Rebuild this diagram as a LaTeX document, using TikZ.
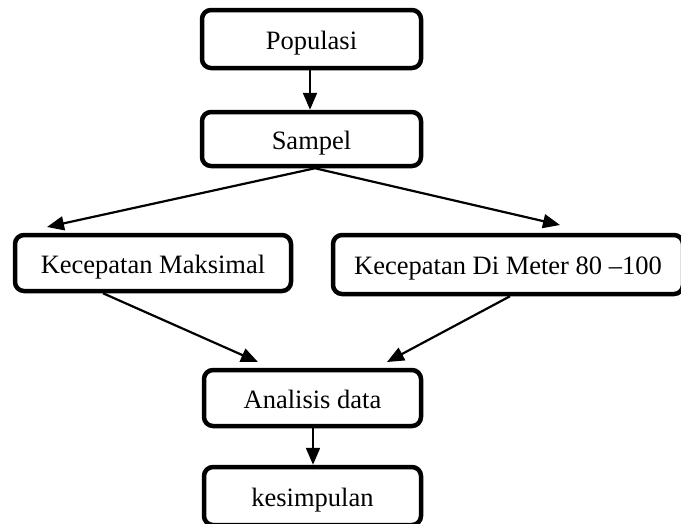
\documentclass[tikz,border=0pt]{standalone}
\usepackage{fontspec}
\setmainfont{Liberation Serif}
\usetikzlibrary{arrows.meta}
\begin{document}
\begin{tikzpicture}[x=1pt,y=-1pt,
  box/.style={draw=black, line width=4.5pt, rounded corners=9pt, fill=white,
    inner sep=0pt, text height=20pt, text depth=0pt,
    font=\fontsize{26.5}{30}\selectfont},
  arr/.style={line width=2.2pt, -{Triangle[length=17pt,width=14pt]}}]
\useasboundingbox (0,0) rectangle (681,523);
\node[box, minimum width=219pt, minimum height=58pt] (pop) at (311.5,39) {Populasi};
\node[box, minimum width=219pt, minimum height=54pt] (samp) at (311.5,139) {Sampel};
\node[box, minimum width=276pt, minimum height=56pt] (km) at (153,263) {Kecepatan Maksimal};
\node[box, minimum width=350pt, minimum height=59pt] (dm) at (508,264.5) {Kecepatan Di Meter 80 --100};
\node[box, minimum width=217pt, minimum height=56pt] (an) at (312.5,398) {Analisis data};
\node[box, minimum width=217pt, minimum height=58pt] (kes) at (312.5,496) {kesimpulan};
\coordinate (t1) at (47,227);
\coordinate (t2) at (560,225);
\coordinate (t3) at (258,362);
\coordinate (t4) at (387,362);
\draw[arr] (pop.south -| 310,0) -- (samp.north -| 310,0);
\draw[arr] (samp.south -| 315,0) -- (t1);
\draw[arr] (samp.south -| 315,0) -- (t2);
\draw[arr] (km.south -| 103,0) -- (t3);
\draw[arr] (dm.south -| 510,0) -- (t4);
\draw[arr] (an.south -| 313,0) -- (kes.north -| 313,0);
\end{tikzpicture}
\end{document}
